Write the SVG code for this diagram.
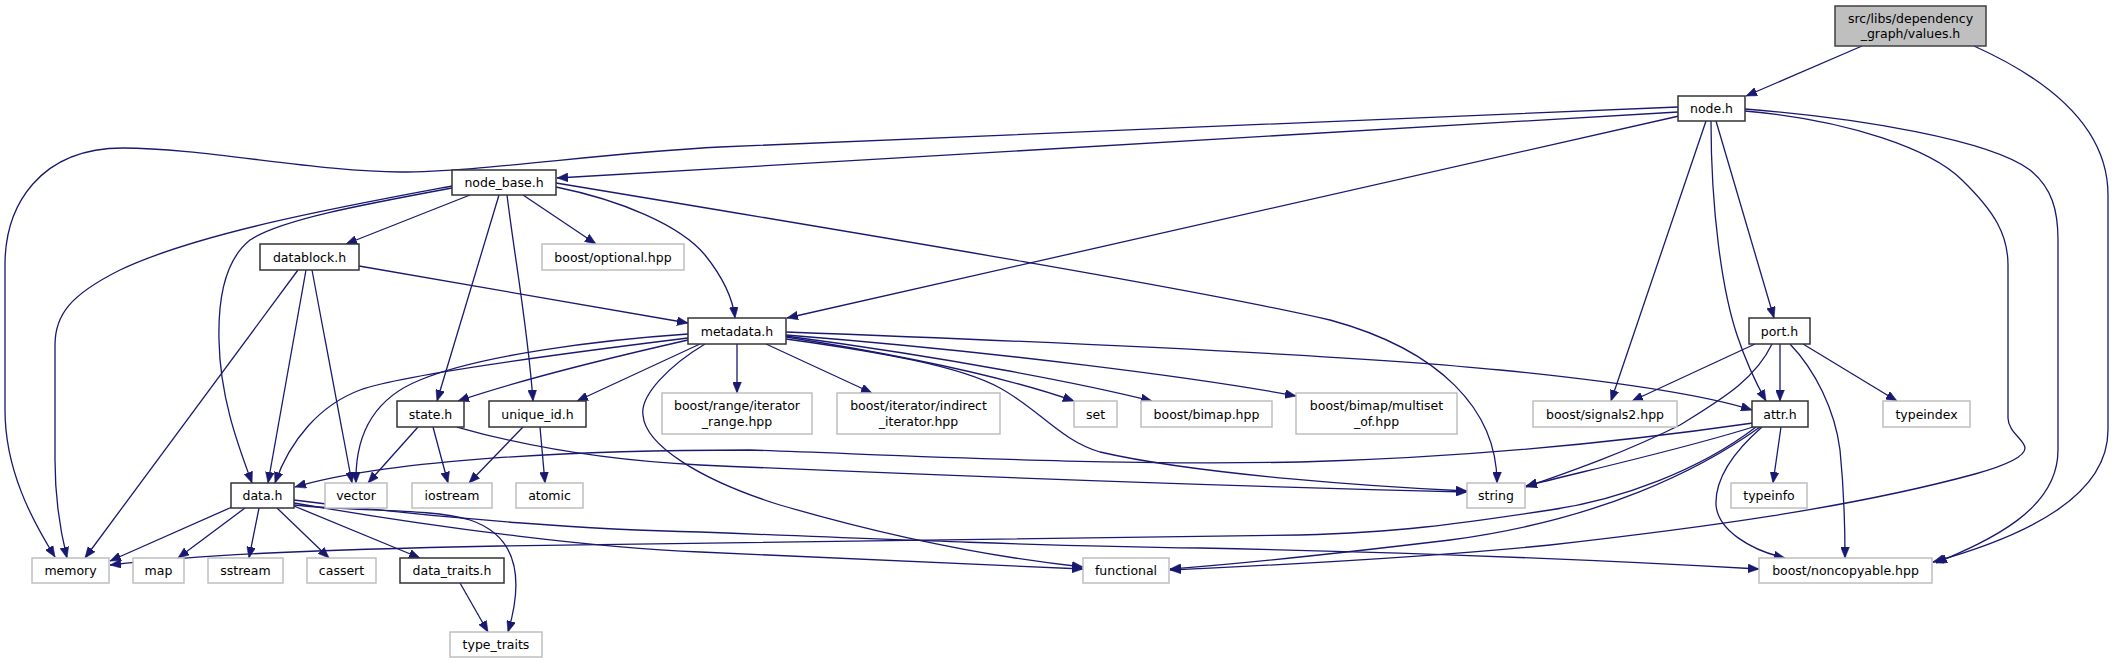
<svg xmlns="http://www.w3.org/2000/svg" width="2115" height="664" viewBox="0 0 2115 664">
<defs>
<style>
.n rect{fill:#fff;stroke:#333;stroke-width:1.5}
.x rect{fill:#fff;stroke:#bfbfbf;stroke-width:1.5}
.r rect{fill:#bfbfbf;stroke:#404040;stroke-width:1.5}
text{font-family:"DejaVu Sans",sans-serif;font-size:12.5px;fill:#000;text-anchor:middle}
#edges path{fill:none;stroke:#191970;stroke-width:1.3;marker-end:url(#ah)}
</style>
<marker id="ah" markerUnits="userSpaceOnUse" markerWidth="11" markerHeight="9" viewBox="0 0 10 8" refX="10" refY="4" orient="auto">
<path d="M0,0 L10,4 L0,8 z" fill="#191970" stroke="#191970" stroke-width="0.5"/>
</marker>
</defs>
<rect width="2115" height="664" fill="#fff"/>
<g id="edges">
<path d="M1862,46 L1746,96"/>
<path d="M1974,46 C2045,78 2108,125 2108,195 L2108,430 C2108,495 2030,535 1933,562"/>
<path d="M1678,112 L557,178"/>
<path d="M1678,107 L720,147 C600,153 480,172 400,172 C320,172 200,148 123,148 C40,148 5,205 5,265 L5,410 C5,470 32,520 55,557"/>
<path d="M1679,116 L787,318"/>
<path d="M1706,121 L1611,401"/>
<path d="M1711,121 C1711,210 1722,290 1737,335 C1747,365 1757,385 1766,401"/>
<path d="M1716,121 L1774,318"/>
<path d="M1745,111 C1850,120 1932,150 1962,180 C1995,212 2008,235 2008,265 L2008,418 C2008,432 2025,440 2025,448 C2025,458 2000,467 1975,474 C1850,508 1700,528 1550,545 C1400,560 1250,566 1170,570"/>
<path d="M1745,109 C1860,118 1990,140 2030,170 C2052,188 2058,210 2058,240 L2058,450 C2058,510 1990,540 1936,563"/>
<path d="M470,195 L346,244"/>
<path d="M523,195 L596,244"/>
<path d="M556,187 C620,200 680,225 705,255 C725,280 733,300 735,318"/>
<path d="M556,183 C900,240 1200,290 1330,320 C1440,350 1497,410 1497,483"/>
<path d="M499,195 L437,401"/>
<path d="M507,195 C515,260 528,330 533,401"/>
<path d="M452,188 C360,205 280,220 250,240 C225,260 218,300 219,340 C220,400 240,450 252,483"/>
<path d="M452,186 C350,205 200,232 120,270 C70,295 55,315 55,345 L55,460 C55,500 60,530 67,558"/>
<path d="M359,266 L688,323"/>
<path d="M306,270 L268,483"/>
<path d="M312,270 L352,483"/>
<path d="M298,270 L85,558"/>
<path d="M737,344 L737,393"/>
<path d="M766,344 L872,393"/>
<path d="M786,337 C900,355 1000,375 1074,401"/>
<path d="M786,336 C950,358 1080,383 1152,401"/>
<path d="M786,335 C1000,352 1200,378 1296,396"/>
<path d="M786,332 C1000,340 1350,355 1500,370 C1650,385 1720,400 1752,410"/>
<path d="M786,339 C880,352 960,366 1000,388 C1040,410 1060,440 1100,452 C1200,475 1380,487 1467,491"/>
<path d="M705,344 C670,365 640,395 643,415 C645,445 700,480 780,505 C900,540 1000,558 1083,567"/>
<path d="M688,340 C600,360 520,380 458,401"/>
<path d="M700,344 L577,401"/>
<path d="M688,338 C550,355 400,375 360,390 C320,405 290,440 275,483"/>
<path d="M688,334 C600,340 480,355 420,380 C370,400 355,440 356,483"/>
<path d="M1755,344 L1632,401"/>
<path d="M1780,344 L1780,401"/>
<path d="M1803,344 L1897,401"/>
<path d="M1772,344 C1755,380 1720,400 1680,425 C1620,455 1560,475 1526,487"/>
<path d="M1790,344 C1815,370 1835,410 1840,450 C1844,490 1845,520 1845,558"/>
<path d="M1753,423 C1600,445 1450,458 1300,462 C1100,466 900,455 750,450 C550,450 380,462 295,487"/>
<path d="M1753,427 C1680,450 1580,472 1526,486"/>
<path d="M1781,427 L1773,483"/>
<path d="M1756,427 C1700,470 1620,500 1550,510 C1450,525 1400,532 1300,535 C1000,540 700,542 500,546 C300,550 200,555 110,565"/>
<path d="M1760,427 C1700,470 1600,520 1450,540 C1350,552 1250,563 1170,569"/>
<path d="M1762,427 C1730,455 1715,480 1716,505 C1718,530 1750,550 1785,558"/>
<path d="M418,427 L368,483"/>
<path d="M433,427 L448,483"/>
<path d="M457,427 C520,445 600,460 700,465 C1000,478 1300,488 1467,492"/>
<path d="M523,427 L469,483"/>
<path d="M540,427 L545,483"/>
<path d="M232,507 L110,561"/>
<path d="M245,508 L178,558"/>
<path d="M259,508 L249,558"/>
<path d="M277,508 L329,558"/>
<path d="M294,506 L420,558"/>
<path d="M294,505 C360,512 430,508 470,520 C515,535 525,575 508,632"/>
<path d="M294,503 C450,530 600,548 700,552 C850,558 1000,565 1083,569"/>
<path d="M294,500 C450,520 600,530 700,532 C900,540 1050,546 1200,548 C1400,552 1600,560 1759,569"/>
<path d="M460,583 L488,632"/>
</g>
<g id="values_h" class="r"><rect x="1835" y="6" width="151" height="40"/><text x="1910.5" y="22.5">src/libs/dependency</text><text x="1910.5" y="38">_graph/values.h</text></g>
<g id="node_h" class="n"><rect x="1678" y="96" width="67" height="25"/><text x="1711.5" y="113">node.h</text></g>
<g id="node_base_h" class="n"><rect x="452" y="170" width="104" height="25"/><text x="504" y="187">node_base.h</text></g>
<g id="datablock_h" class="n"><rect x="260" y="244" width="99" height="26"/><text x="309.5" y="261.5">datablock.h</text></g>
<g id="boost_optional_hpp" class="x"><rect x="542" y="244" width="142" height="26"/><text x="613" y="261.5">boost/optional.hpp</text></g>
<g id="metadata_h" class="n"><rect x="688" y="318" width="98" height="26"/><text x="737" y="335.5">metadata.h</text></g>
<g id="port_h" class="n"><rect x="1749" y="318" width="61" height="26"/><text x="1779.5" y="335.5">port.h</text></g>
<g id="iterator_range_hpp" class="x"><rect x="662" y="393" width="150" height="41"/><text x="737" y="410">boost/range/iterator</text><text x="737" y="425.5">_range.hpp</text></g>
<g id="indirect_iterator_hpp" class="x"><rect x="837" y="393" width="163" height="41"/><text x="918.5" y="410">boost/iterator/indirect</text><text x="918.5" y="425.5">_iterator.hpp</text></g>
<g id="set" class="x"><rect x="1074" y="401" width="43" height="26"/><text x="1095.5" y="418.5">set</text></g>
<g id="boost_bimap_hpp" class="x"><rect x="1141" y="401" width="131" height="26"/><text x="1206.5" y="418.5">boost/bimap.hpp</text></g>
<g id="multiset_of_hpp" class="x"><rect x="1296" y="393" width="161" height="41"/><text x="1376.5" y="410">boost/bimap/multiset</text><text x="1376.5" y="425.5">_of.hpp</text></g>
<g id="boost_signals2_hpp" class="x"><rect x="1533" y="401" width="144" height="26"/><text x="1605" y="418.5">boost/signals2.hpp</text></g>
<g id="attr_h" class="n"><rect x="1752" y="401" width="56" height="26"/><text x="1780" y="418.5">attr.h</text></g>
<g id="typeindex" class="x"><rect x="1883" y="401" width="87" height="26"/><text x="1926.5" y="418.5">typeindex</text></g>
<g id="state_h" class="n"><rect x="397" y="401" width="67" height="26"/><text x="430.5" y="418.5">state.h</text></g>
<g id="unique_id_h" class="n"><rect x="489" y="401" width="97" height="26"/><text x="537.5" y="418.5">unique_id.h</text></g>
<g id="data_h" class="n"><rect x="231" y="483" width="63" height="25"/><text x="262.5" y="500">data.h</text></g>
<g id="vector" class="x"><rect x="325" y="483" width="62" height="25"/><text x="356" y="500">vector</text></g>
<g id="iostream" class="x"><rect x="412" y="483" width="80" height="25"/><text x="452" y="500">iostream</text></g>
<g id="atomic" class="x"><rect x="516" y="483" width="67" height="25"/><text x="549.5" y="500">atomic</text></g>
<g id="string" class="x"><rect x="1467" y="483" width="58" height="25"/><text x="1496" y="500">string</text></g>
<g id="typeinfo" class="x"><rect x="1731" y="483" width="76" height="25"/><text x="1769" y="500">typeinfo</text></g>
<g id="memory" class="x"><rect x="32" y="558" width="77" height="25"/><text x="70.5" y="575">memory</text></g>
<g id="map" class="x"><rect x="133" y="558" width="51" height="25"/><text x="158.5" y="575">map</text></g>
<g id="sstream" class="x"><rect x="208" y="558" width="75" height="25"/><text x="245.5" y="575">sstream</text></g>
<g id="cassert" class="x"><rect x="307" y="558" width="69" height="25"/><text x="341.5" y="575">cassert</text></g>
<g id="data_traits_h" class="n"><rect x="400" y="558" width="104" height="25"/><text x="452" y="575">data_traits.h</text></g>
<g id="functional" class="x"><rect x="1083" y="558" width="86" height="25"/><text x="1126" y="575">functional</text></g>
<g id="boost_noncopyable_hpp" class="x"><rect x="1759" y="558" width="173" height="25"/><text x="1845.5" y="575">boost/noncopyable.hpp</text></g>
<g id="type_traits" class="x"><rect x="450" y="632" width="92" height="25"/><text x="496" y="649">type_traits</text></g>
</svg>
